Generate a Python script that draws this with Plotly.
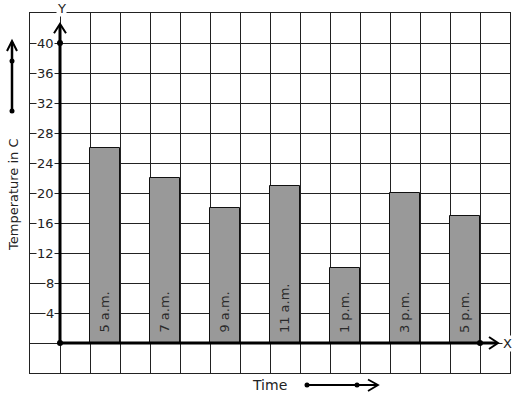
import plotly.graph_objects as go

# ---- data ----
times = ["5 a.m.", "7 a.m.", "9 a.m.", "11 a.m.", "1 p.m.", "3 p.m.", "5 p.m."]
temperatures = [26, 22, 18, 21, 10, 20, 17]
y_tick_values = [4, 8, 12, 16, 20, 24, 28, 32, 36, 40]

W, H = 517, 399
ML, MR, MT, MB = 30, 7, 13, 26
PW, PH = W - ML - MR, H - MT - MB

def px(x):
    return (x - ML) / PW

def py(y):
    return (H - MB - y) / PH

FONT = "DejaVu Sans"
INK = "#222222"

positions = [1.5 + 2 * i for i in range(len(times))]

fig = go.Figure()
fig.add_trace(go.Bar(
    x=positions, y=temperatures, width=1,
    marker=dict(color="#999999", line=dict(color="#111111", width=1)),
    hoverinfo="skip", showlegend=False,
))

# axis points (dots)
fig.add_trace(go.Scatter(
    x=[0, 0, 14], y=[0, 40, 0], mode="markers",
    marker=dict(color="black", size=6), cliponaxis=False,
    hoverinfo="skip", showlegend=False,
))

shapes = []
# thick axes
shapes.append(dict(type="line", xref="x", yref="y", x0=0, y0=0, x1=0, y1=42.4,
                   line=dict(color="black", width=3)))
shapes.append(dict(type="line", xref="x", yref="y", x0=0, y0=0, x1=14.55, y1=0,
                   line=dict(color="black", width=3)))
# chevrons on axes
shapes.append(dict(type="path", xref="x", yref="y",
                   path="M -0.2,41.3 L 0,42.55 L 0.2,41.3",
                   line=dict(color="black", width=2)))
shapes.append(dict(type="path", xref="x", yref="y",
                   path="M 14.3,0.8 L 14.6,0 L 14.3,-0.8",
                   line=dict(color="black", width=2)))

# left decorative arrow
shapes.append(dict(type="line", xref="paper", yref="paper",
                   x0=px(12), y0=py(111), x1=px(12), y1=py(42),
                   line=dict(color="black", width=2.5)))
shapes.append(dict(type="path", xref="paper", yref="paper",
                   path=f"M {px(7)},{py(51)} L {px(12)},{py(41)} L {px(17)},{py(51)}",
                   line=dict(color="black", width=2)))
# time arrow
shapes.append(dict(type="line", xref="paper", yref="paper",
                   x0=px(307), y0=py(385), x1=px(377), y1=py(385),
                   line=dict(color="black", width=2)))
shapes.append(dict(type="path", xref="paper", yref="paper",
                   path=f"M {px(368)},{py(379.5)} L {px(378)},{py(385)} L {px(368)},{py(391)}",
                   line=dict(color="black", width=1.8)))
# dots outside plot
for (dx, dy) in [(12, 61), (12, 111), (307, 385), (357, 385)]:
    shapes.append(dict(type="circle", xref="paper", yref="paper",
                       xsizemode="pixel", ysizemode="pixel",
                       xanchor=px(dx), yanchor=py(dy),
                       x0=-2.5, x1=2.5, y0=-2.5, y1=2.5,
                       fillcolor="black", line=dict(color="black", width=0)))

annotations = []
for v in y_tick_values:
    annotations.append(dict(x=-0.17, y=v, xref="x", yref="y", text=str(v),
                            showarrow=False, xanchor="right", yanchor="middle",
                            bgcolor="white", borderpad=0,
                            font=dict(family=FONT, size=13, color=INK)))
for xp, t in zip(positions, times):
    annotations.append(dict(x=xp - 0.03, y=0, xref="x", yref="y", text=t,
                            showarrow=False, textangle=-90,
                            xanchor="center", yanchor="bottom", yshift=8,
                            font=dict(family=FONT, size=13, color="#2a2a2a")))
annotations.append(dict(x=px(61), y=py(8), xref="paper", yref="paper", text="Y",
                        showarrow=False, bgcolor="white", borderpad=0,
                        xanchor="center", yanchor="middle",
                        font=dict(family=FONT, size=13, color=INK)))
annotations.append(dict(x=14.93, y=0, xref="x", yref="y", text="X",
                        showarrow=False, bgcolor="white", borderpad=0,
                        xanchor="center", yanchor="middle",
                        font=dict(family=FONT, size=13, color=INK)))
annotations.append(dict(x=px(269), y=py(385), xref="paper", yref="paper", text="Time",
                        showarrow=False, xanchor="center", yanchor="middle",
                        font=dict(family=FONT, size=14, color=INK)))
annotations.append(dict(x=px(13), y=py(195), xref="paper", yref="paper",
                        text="Temperature in C", textangle=-90,
                        showarrow=False, xanchor="center", yanchor="middle",
                        font=dict(family=FONT, size=13, color=INK)))

fig.update_layout(
    width=W, height=H,
    margin=dict(l=ML, r=MR, t=MT, b=MB, pad=0),
    paper_bgcolor="white", plot_bgcolor="white",
    shapes=shapes, annotations=annotations,
    bargap=0,
    xaxis=dict(range=[-1, 15], dtick=1, tick0=0, showgrid=True, gridcolor=INK,
               gridwidth=1, zeroline=False, showticklabels=False, ticks="",
               showline=True, linecolor=INK, linewidth=1, mirror=True, fixedrange=True),
    yaxis=dict(range=[-4, 44], dtick=4, tick0=0, showgrid=True, gridcolor=INK,
               gridwidth=1, zeroline=False, showticklabels=False, ticks="",
               showline=True, linecolor=INK, linewidth=1, mirror=True, fixedrange=True),
)

fig.write_html("out.html", config={"displayModeBar": False})
